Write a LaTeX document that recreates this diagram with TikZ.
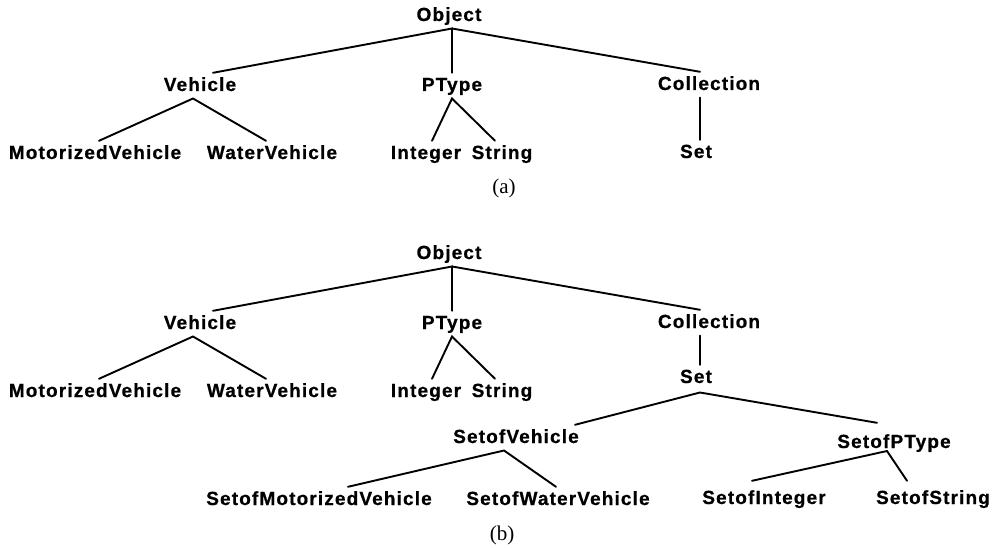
\documentclass[tikz,border=0pt]{standalone}
\usepackage{fontspec}
\setmainfont{Liberation Serif}
\newfontface\classfont{Liberation Sans Bold}[LetterSpace=6, FakeBold=0.7]
\begin{document}
\begin{tikzpicture}[x=1pt, y=-1pt,
  cls/.style={anchor=base, inner sep=0pt, outer sep=0pt,
    text height=18.2pt, text depth=7.5pt,
    font=\classfont\fontsize{19}{22}\selectfont},
  captext/.style={anchor=center, inner sep=0pt,
    font=\rmfamily\fontsize{21}{24}\selectfont},
  link/.style={line width=1.9pt, line cap=round}]
\useasboundingbox (0,0) rectangle (1001,548);

% ---------- (a) ----------
\node[cls] (aobj)  at (449,21)  {Object};
\node[cls] (aveh)  at (200,91)  {Vehicle};
\node[cls] (aptp)  at (452,91)  {PType};
\node[cls] (acol)  at (709,90)  {Collection};
\node[cls] (amot)  at (95,159)  {MotorizedVehicle};
\node[cls] (awat)  at (272,159) {WaterVehicle};
\node[cls] (aint)  at (426,159) {Integer};
\node[cls] (astr)  at (502,159) {String};
\node[cls] (aset)  at (696,158) {Set};
\node[captext] (acap)  at (504,188) {(a)};

\draw[link] ([xshift=13]aveh.north) -- ([xshift=3]aobj.south) -- ([xshift=0]aptp.north);
\draw[link] ([xshift=3]aobj.south) -- ([xshift=-9]acol.north);
\draw[link] ([xshift=4]amot.north) -- ([xshift=-7]aveh.south) -- ([xshift=-6]awat.north);
\draw[link] ([xshift=6]aint.north) -- (aptp.south) -- ([xshift=-7]astr.north);
\draw[link] ([xshift=-9]acol.south) -- ([xshift=4]aset.north);

% ---------- (b) ----------
\node[cls] (bobj)  at (449,259) {Object};
\node[cls] (bveh)  at (200,329) {Vehicle};
\node[cls] (bptp)  at (452,329) {PType};
\node[cls] (bcol)  at (709,328) {Collection};
\node[cls] (bmot)  at (95,397)  {MotorizedVehicle};
\node[cls] (bwat)  at (272,397) {WaterVehicle};
\node[cls] (bint)  at (426,397) {Integer};
\node[cls] (bstr)  at (502,397) {String};
\node[cls] (bset)  at (696,383) {Set};
\node[cls] (bsveh) at (516,443) {SetofVehicle};
\node[cls] (bsptp) at (894,448) {SetofPType};
\node[cls] (bsmot) at (319,505) {SetofMotorizedVehicle};
\node[cls] (bswat) at (558,505) {SetofWaterVehicle};
\node[cls] (bsint) at (764,504) {SetofInteger};
\node[cls] (bsstr) at (933,504) {SetofString};
\node[captext] (bcap)  at (502,535) {(b)};

\draw[link] ([xshift=13]bveh.north) -- ([xshift=3]bobj.south) -- (bptp.north);
\draw[link] ([xshift=3]bobj.south) -- ([xshift=-9]bcol.north);
\draw[link] ([xshift=4]bmot.north) -- ([xshift=-7]bveh.south) -- ([xshift=-6]bwat.north);
\draw[link] ([xshift=6]bint.north) -- (bptp.south) -- ([xshift=-7]bstr.north);
\draw[link] ([xshift=-9]bcol.south) -- ([xshift=4]bset.north);
\draw[link] ([xshift=59]bsveh.north) -- ([xshift=4,yshift=-2]bset.south) -- ([xshift=-17,yshift=7]bsptp.north);
\draw[link] ([xshift=29]bsmot.north) -- ([xshift=-12]bsveh.south) -- ([xshift=-2]bswat.north);
\draw[link] ([xshift=-12,yshift=5]bsint.north) -- ([xshift=-7,yshift=4.5]bsptp.south) -- ([xshift=-26,yshift=5]bsstr.north);
\end{tikzpicture}
\end{document}
